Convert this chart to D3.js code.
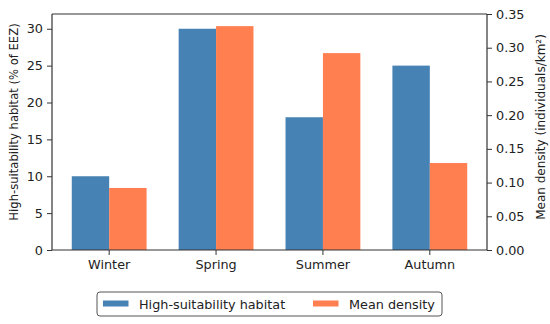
<!DOCTYPE html>
<html>
<head>
<meta charset="utf-8">
<style>
  body { margin: 0; background: #fff; }
  svg text { font-family: "DejaVu Sans", sans-serif; fill: #222; }
</style>
</head>
<body>
<div id="chart"></div>
<script src="https://d3js.org/d3.v7.min.js"></script>
<script>
var seasons = ["Winter", "Spring", "Summer", "Autumn"];
var habitat = [10, 30, 18, 25];          // % of EEZ
var density = [0.092, 0.332, 0.292, 0.129]; // individuals/km²
var leftTicks = [0, 5, 10, 15, 20, 25, 30];
var rightTicks = [0, 0.05, 0.10, 0.15, 0.20, 0.25, 0.30, 0.35];
var seriesNames = ["High-suitability habitat", "Mean density"];
var colors = ["#4682b4", "#ff7f50"];

var W = 550, H = 324;
var margin = {top: 14, right: 63, bottom: 74, left: 52};
var width = W - margin.left - margin.right,
    height = H - margin.top - margin.bottom;

var svg = d3.select("#chart").append("svg")
    .attr("width", W).attr("height", H);
var g = svg.append("g")
    .attr("transform", "translate(" + margin.left + "," + margin.top + ")");

var x = d3.scaleBand().domain(seasons).range([0, width])
    .paddingInner(0.3).paddingOuter(0.185);
var xs = d3.scaleBand().domain([0, 1]).range([0, x.bandwidth()]);
var yL = d3.scaleLinear().domain([0, 32]).range([height, 0]);
var yR = d3.scaleLinear().domain([0, 0.35]).range([height, 0]);

// bars
g.selectAll("rect.hab").data(habitat).enter().append("rect")
    .attr("class", "hab")
    .attr("x", (d, i) => x(seasons[i]) + xs(0))
    .attr("y", d => yL(d))
    .attr("width", xs.bandwidth())
    .attr("height", d => height - yL(d))
    .attr("fill", colors[0]);

g.selectAll("rect.den").data(density).enter().append("rect")
    .attr("class", "den")
    .attr("x", (d, i) => x(seasons[i]) + xs(1))
    .attr("y", d => yR(d))
    .attr("width", xs.bandwidth())
    .attr("height", d => height - yR(d))
    .attr("fill", colors[1]);

// axes
var axL = g.append("g")
    .call(d3.axisLeft(yL).tickValues(leftTicks).tickSize(5).tickPadding(4));
var axR = g.append("g")
    .attr("transform", "translate(" + width + ",0)")
    .call(d3.axisRight(yR).tickValues(rightTicks).tickSize(5).tickPadding(4)
        .tickFormat(d3.format(".2f")));
var axB = g.append("g")
    .attr("transform", "translate(0," + height + ")")
    .call(d3.axisBottom(x).tickSize(5).tickPadding(5));
// top frame
g.append("line").attr("x1", 0).attr("x2", width).attr("y1", 0).attr("y2", 0)
    .attr("stroke", "#333").attr("stroke-width", 1.2);

[axL, axR, axB].forEach(function(a) {
    a.selectAll("path").attr("stroke", "#333").attr("stroke-width", 1.2);
    a.selectAll("line").attr("stroke", "#333");
    a.selectAll("text").style("font-size", "12.8px").attr("fill", "#222");
});
axL.select(".domain").attr("d", "M0," + height + "V0");
axR.select(".domain").attr("d", "M0," + height + "V0");
axB.select(".domain").attr("d", "M0,0H" + width);

// axis titles
svg.append("text")
    .attr("transform", "translate(17.5,122) rotate(-90)")
    .attr("text-anchor", "middle")
    .style("font-size", "11.6px")
    .text("High-suitability habitat (% of EEZ)");
svg.append("text")
    .attr("transform", "translate(545,127) rotate(-90)")
    .attr("text-anchor", "middle")
    .style("font-size", "12px")
    .text("Mean density (individuals/km²)");

// legend
var lg = svg.append("g").attr("transform", "translate(97,292)");
lg.append("rect").attr("width", 345).attr("height", 24).attr("rx", 3)
    .attr("fill", "#fff").attr("stroke", "#555").attr("stroke-width", 1);
var lx = [6, 216];
seriesNames.forEach(function(n, i) {
    lg.append("rect").attr("x", lx[i]).attr("y", 8.5).attr("width", 25.5).attr("height", 6)
        .attr("fill", colors[i]);
    lg.append("text").attr("x", lx[i] + 36).attr("y", 16.8)
        .style("font-size", "12.8px").text(n);
});
</script>
</body>
</html>
